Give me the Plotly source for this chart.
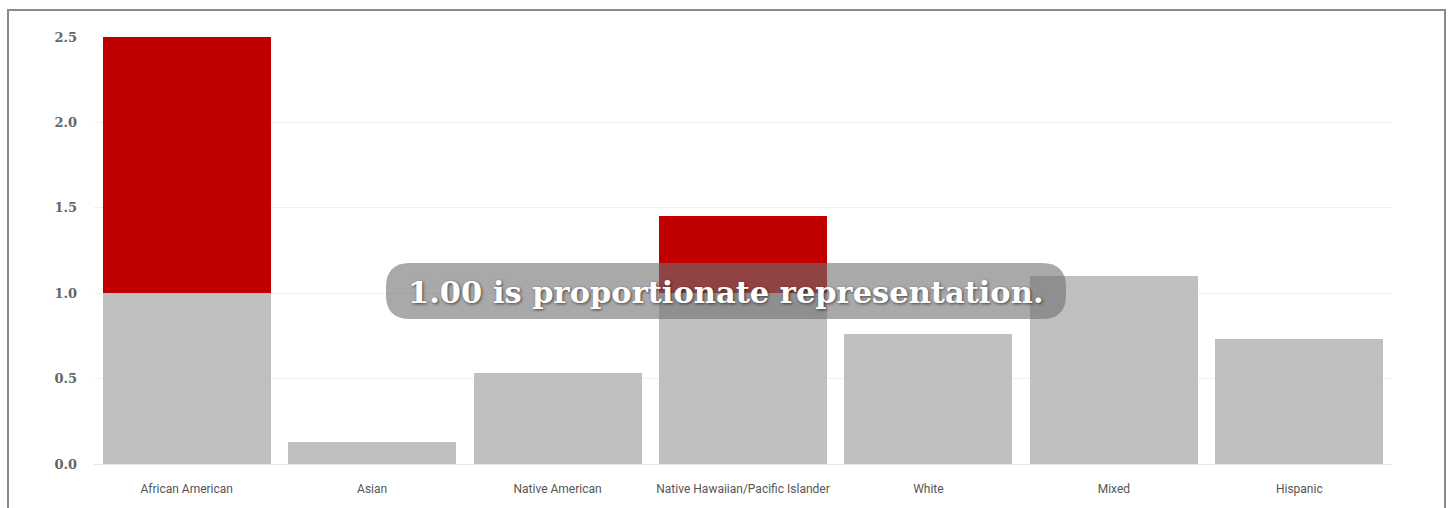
import plotly.graph_objects as go

categories = ["African American", "Asian", "Native American",
              "Native Hawaiian/Pacific Islander", "White", "Mixed", "Hispanic"]
base_values = [1.0, 0.13, 0.53, 1.0, 0.76, 1.10, 0.73]
excess_values = [1.5, 0, 0, 0.45, 0, 0, 0]
y_ticks = [0, 0.5, 1.0, 1.5, 2.0, 2.5]
y_ticklabels = ["0.0", "0.5", "1.0", "1.5", "2.0", "2.5"]
note_text = "1.00 is proportionate representation."

W, H = 1452, 508
ML, MR, MT, MB = 94, 60, 37, 44
PW, PH = W - ML - MR, H - MT - MB

def px_x(x):
    return (x - ML) / PW

def px_y(y):
    return (H - MB - y) / PH

fig = go.Figure()
fig.add_trace(go.Bar(x=categories, y=base_values, marker=dict(color="#bfbfbf", line=dict(width=0)),
                     hoverinfo="skip"))
fig.add_trace(go.Bar(x=categories, y=excess_values, marker=dict(color="#c00000", line=dict(width=0)),
                     hoverinfo="skip"))

# rounded box
x0, x1, y0, y1, r = px_x(386), px_x(1066), px_y(319), px_y(263), 24
rx, ry = r / PW, r / PH
path = (f"M {x0+rx},{y0} L {x1-rx},{y0} Q {x1},{y0} {x1},{y0+ry} "
        f"L {x1},{y1-ry} Q {x1},{y1} {x1-rx},{y1} L {x0+rx},{y1} "
        f"Q {x0},{y1} {x0},{y1-ry} L {x0},{y0+ry} Q {x0},{y0} {x0+rx},{y0} Z")
shapes = [
    dict(type="path", path=path, xref="paper", yref="paper",
         fillcolor="rgba(112,112,112,0.6)", line=dict(width=0), layer="above"),
    dict(type="rect", xref="paper", yref="paper",
         x0=px_x(8), x1=px_x(1445), y0=px_y(530), y1=px_y(10),
         line=dict(color="#8a8a8a", width=2), fillcolor="rgba(0,0,0,0)", layer="above"),
]

fig.update_layout(
    width=W, height=H, barmode="stack", bargap=0.094, showlegend=False,
    margin=dict(l=ML, r=MR, t=MT, b=MB),
    paper_bgcolor="white", plot_bgcolor="white",
    shapes=shapes,
    annotations=[dict(text=f"<b>{note_text}</b>", xref="paper", yref="paper",
                      x=px_x(726), y=px_y(292), showarrow=False,
                      font=dict(family="DejaVu Serif", size=30.5, color="white",
                                shadow="1px 1px 3px rgba(0,0,0,0.6)"))],
    xaxis=dict(tickfont=dict(family="Roboto", size=12, color="#555"),
               showline=True, linecolor="#e6e6e6", ticks="", fixedrange=True,
               ticklabelstandoff=14),
    yaxis=dict(range=[0, 2.5], tickvals=y_ticks, ticktext=[f"<b>{t}</b>" for t in y_ticklabels],
               tickfont=dict(family="DejaVu Serif", size=13, color="#666"),
               gridcolor="#efefef", zeroline=False, ticks="", ticklen=0,
               fixedrange=True, ticklabelstandoff=16),
)
fig.write_html("out.html")
